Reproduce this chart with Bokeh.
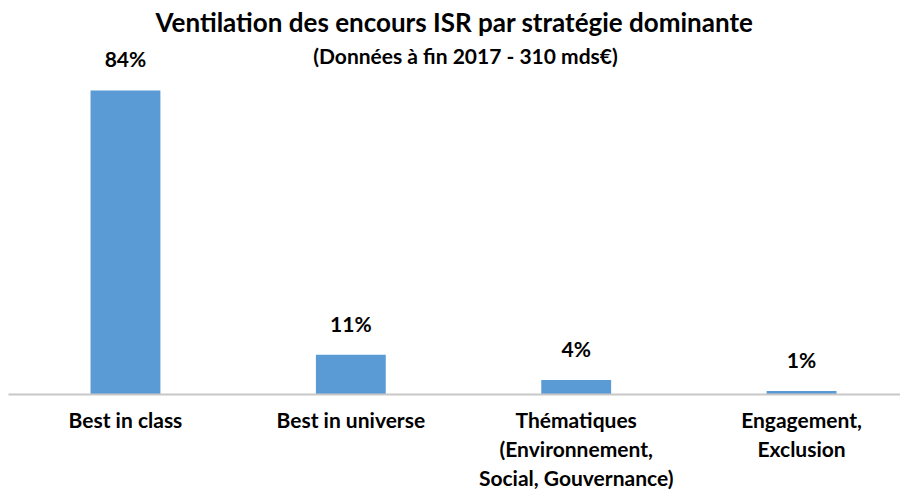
from bokeh.plotting import figure
from bokeh.models import Range1d, FixedTicker, ColumnDataSource, LabelSet, Label
from bokeh.core.properties import value
from bokeh.embed import file_html
from bokeh.resources import INLINE

categories = ["Best in class", "Best in universe",
              "Thématiques\n(Environnement,\nSocial, Gouvernance)",
              "Engagement,\nExclusion"]
values = [84, 11, 4, 1]
value_labels = ["84%", "11%", "4%", "1%"]
title_text = "Ventilation des encours ISR par stratégie dominante"
subtitle_text = "(Données à fin 2017 - 310 mds€)"

FONT = "Lato"
positions = list(range(len(categories)))
src = ColumnDataSource(dict(x=positions, top=values, lab=value_labels))

p = figure(width=900, height=493, output_backend="svg", toolbar_location=None,
           x_range=Range1d(-0.519, 3.439), y_range=Range1d(0, 97.8),
           y_axis_location=None, min_border_left=8, min_border_right=0,
           min_border_top=0, min_border_bottom=0,
           title=title_text)
p.title.align = "center"
p.title.offset = -6
p.title.text_font = FONT
p.title.text_font_size = "26px"
p.title.text_font_style = "bold"
p.title.text_color = "#000000"
p.title.standoff = 6

p.vbar(x="x", top="top", bottom=0, width=0.31, source=src,
       fill_color="#5B9BD5", line_color=None)

labels = LabelSet(x="x", y="top", text="lab", source=src, text_align="center",
                  text_baseline="alphabetic", y_offset=23, text_font=value(FONT),
                  text_font_size=value("21px"), text_font_style=value("bold"),
                  text_color=value("#000000"))
p.add_layout(labels)

sub = Label(x=457, y=339, x_units="screen", y_units="screen", text=subtitle_text,
            text_align="center", text_baseline="alphabetic", text_font=FONT,
            text_font_size="21px", text_font_style="bold", text_color="#000000")
p.add_layout(sub)

ax = p.xaxis[0]
ax.ticker = FixedTicker(ticks=positions)
ax.major_label_overrides = {i: c for i, c in zip(positions, categories)}
ax.major_tick_line_color = None
ax.minor_tick_line_color = None
ax.axis_line_color = "#C8C8C8"
ax.axis_line_width = 2
ax.major_label_standoff = 6
ax.major_label_text_font = FONT
ax.major_label_text_font_size = "21px"
ax.major_label_text_font_style = "bold"
ax.major_label_text_color = "#000000"
ax.major_label_text_line_height = 1.17

p.xgrid.visible = False
p.ygrid.visible = False
p.outline_line_color = None

open("out.html", "w").write(file_html(p, INLINE))
